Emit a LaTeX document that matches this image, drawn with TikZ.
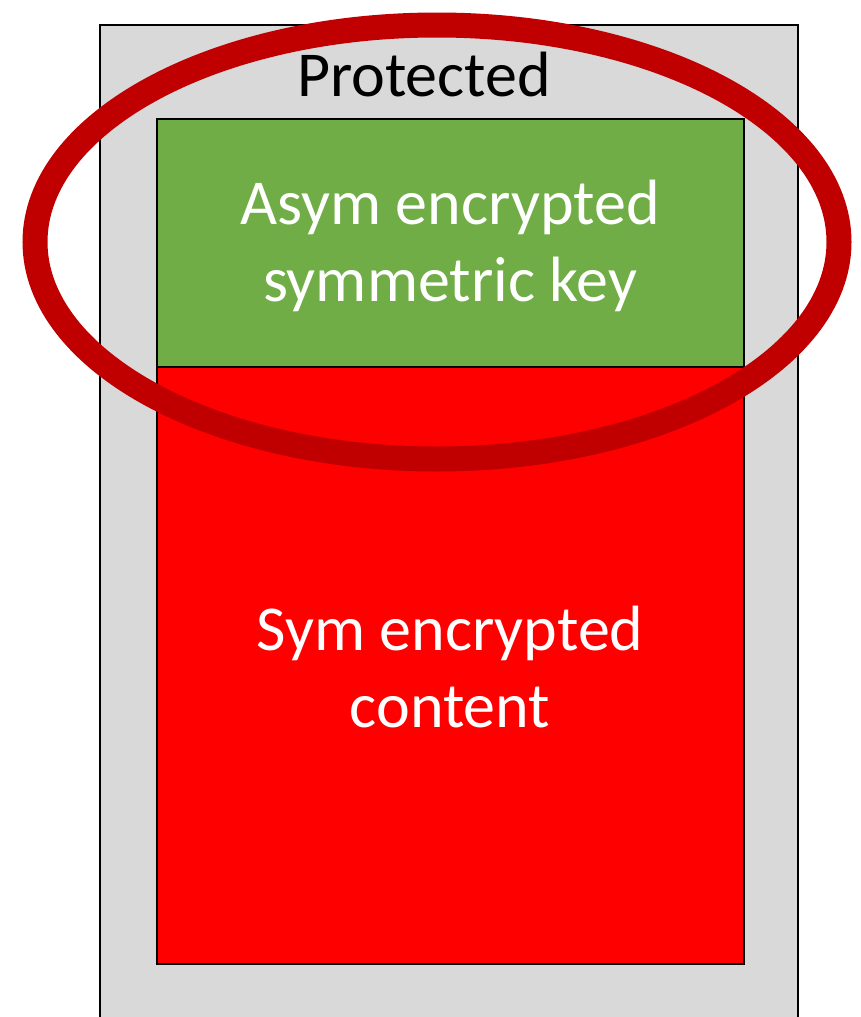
\documentclass[tikz,border=0pt]{standalone}
\usepackage{fontspec}
\setmainfont{Carlito}
\definecolor{panelgray}{HTML}{D9D9D9}
\definecolor{keygreen}{HTML}{70AD47}
\definecolor{contentred}{HTML}{FF0000}
\definecolor{ringred}{HTML}{C00000}
\tikzset{
  box/.style={draw=black, line width=2pt},
  bigtext/.style={font=\fontsize{64}{77}\selectfont, align=center, inner sep=0pt},
}
\begin{document}
\begin{tikzpicture}[x=1pt, y=-1pt]
\useasboundingbox (0,0) rectangle (861,1017);
\begin{scope}
\clip (0,0) rectangle (861,1017);
% outer protected container (continues past the lower edge)
\draw[box, fill=panelgray] (100,25) rectangle (798,1040);
\end{scope}
\node[bigtext, text=black, anchor=base] (prot) at (424,96) {Protected};
% key block and content block
\draw[box, fill=keygreen] (157,119) rectangle (744,367);
\draw[box, fill=contentred] (157,367) rectangle (744,964);
\node[bigtext, text=white] (key) at (450,246) {Asym encrypted\\symmetric key};
\node[bigtext, text=white] (content) at (450,667) {Sym encrypted\\content};
% highlight ring around the key block
\draw[ringred, line width=25pt] (437,242) ellipse [x radius=402, y radius=217];
\end{tikzpicture}
\end{document}
